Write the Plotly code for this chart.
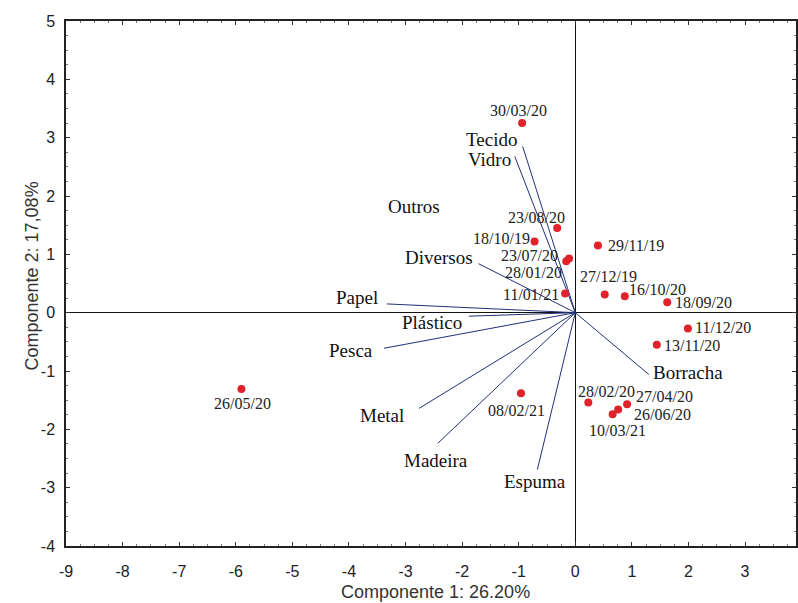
import plotly.graph_objects as go

# ---- data ----
obs_labels = ["30/03/20", "23/08/20", "18/10/19", "23/07/20", "28/01/20", "11/01/21",
              "29/11/19", "27/12/19", "16/10/20", "18/09/20", "11/12/20", "13/11/20",
              "28/02/20", "27/04/20", "26/06/20", "10/03/21", "08/02/21", "26/05/20"]
obs_pc1 = [-0.94, -0.32, -0.72, -0.16, -0.11, -0.18,
           0.40, 0.52, 0.875, 1.625, 1.99, 1.44,
           0.23, 0.915, 0.757, 0.66, -0.96, -5.90]
obs_pc2 = [3.25, 1.45, 1.22, 0.88, 0.93, 0.33,
           1.15, 0.31, 0.28, 0.18, -0.27, -0.55,
           -1.54, -1.57, -1.66, -1.74, -1.38, -1.31]

var_labels = ["Tecido", "Vidro", "Diversos", "Papel", "Plástico", "Pesca",
              "Metal", "Madeira", "Espuma", "Borracha"]
var_pc1 = [-0.93, -1.07, -1.71, -3.33, -1.88, -3.38, -2.76, -2.43, -0.67, 1.30]
var_pc2 = [2.85, 2.68, 0.84, 0.15, -0.06, -0.61, -1.64, -2.24, -2.69, -1.06]

# variable drawn without a visible vector
extra_var_label = "Outros"
extra_var_pc1 = -2.73
extra_var_pc2 = 1.65

x_tickvals = [-9, -8, -7, -6, -5, -4, -3, -2, -1, 0, 1, 2, 3]
x_ticktext = ["-9", "-8", "-7", "-6", "-5", "-4", "-3", "-2", "-1", "0", "1", "2", "3"]
y_tickvals = [-4, -3, -2, -1, 0, 1, 2, 3, 4, 5]
y_ticktext = ["-4", "-3", "-2", "-1", "0", "1", "2", "3", "4", "5"]

x_title = "Componente 1: 26.20%"
y_title = "Componente 2: 17,08%"

# ---- label offsets in pixels (style) ----
obs_offsets = [(-4, -13), (-21, -11), (-33, -3), (-37, -6), (-36, 14), (-34, 1),
               (38, 0), (4, -18), (33, -7), (36, 0), (35, -1), (35, 1),
               (18, -11), (37, -8), (44, 5), (5, 16), (-4, 17), (1, 14)]
var_offsets = [(-31, -7), (-25, 3), (-40, -6), (-30, -6), (-37, 6), (-33, 2),
               (-37, 7), (-2, 17), (-2, 12), (39, -2)]
extra_offset = (-7, -10)

fig = go.Figure()

# vectors from origin
lx, ly = [], []
for a, b in zip(var_pc1, var_pc2):
    lx += [0, a, None]
    ly += [0, b, None]
fig.add_trace(go.Scatter(x=lx, y=ly, mode="lines",
                         line=dict(color="#22307a", width=1), hoverinfo="skip",
                         showlegend=False))

# observations
fig.add_trace(go.Scatter(x=obs_pc1, y=obs_pc2, mode="markers",
                         marker=dict(color="#e0222a", size=8),
                         showlegend=False))

annotations = []
for t, a, b, (dx, dy) in zip(obs_labels, obs_pc1, obs_pc2, obs_offsets):
    annotations.append(dict(x=a, y=b, text=t, showarrow=False, xshift=dx, yshift=-dy,
                            font=dict(family="Liberation Serif", size=16, color="#222222"),
                            xanchor="center", yanchor="middle"))
for t, a, b, (dx, dy) in zip(var_labels, var_pc1, var_pc2, var_offsets):
    annotations.append(dict(x=a, y=b, text=t, showarrow=False, xshift=dx, yshift=-dy,
                            font=dict(family="Liberation Serif", size=19, color="#111111"),
                            xanchor="center", yanchor="middle"))
annotations.append(dict(x=extra_var_pc1, y=extra_var_pc2, text=extra_var_label, showarrow=False,
                        xshift=extra_offset[0], yshift=-extra_offset[1],
                        font=dict(family="Liberation Serif", size=19, color="#111111"),
                        xanchor="center", yanchor="middle"))

annotations.append(dict(x=0.5, y=0, xref="paper", yref="paper", text=x_title, showarrow=False,
                        xshift=4, yshift=-46, xanchor="center", yanchor="middle",
                        font=dict(family="Liberation Sans", size=18, color="#333333")))
annotations.append(dict(x=0, y=0.5, xref="paper", yref="paper", text=y_title, showarrow=False,
                        xshift=-35, yshift=7, xanchor="center", yanchor="middle", textangle=-90,
                        font=dict(family="Liberation Sans", size=18, color="#333333")))

axis_common = dict(showgrid=False, zeroline=True, zerolinecolor="#111111", zerolinewidth=1,
                   showline=True, linecolor="#222222", linewidth=1.5, mirror="ticks",
                   ticks="inside", ticklen=4, tickcolor="#333333", tickmode="array",
                   tickfont=dict(family="Liberation Sans", size=16, color="#222222"),
                   minor=dict(ticks="inside", ticklen=2, dtick=0.25, tick0=0, tickcolor="#777777"))

fig.update_layout(
    width=798, height=603,
    margin=dict(l=66, r=0, t=21, b=57),
    paper_bgcolor="white", plot_bgcolor="white",
    xaxis=dict(range=[-9, 3.9], tickvals=x_tickvals, ticktext=x_ticktext,
               ticklabelstandoff=10, **axis_common),
    yaxis=dict(range=[-4, 5], tickvals=y_tickvals, ticktext=y_ticktext,
               ticklabelstandoff=6, **axis_common),
    annotations=annotations,
    showlegend=False,
)

fig.write_html("out.html")
